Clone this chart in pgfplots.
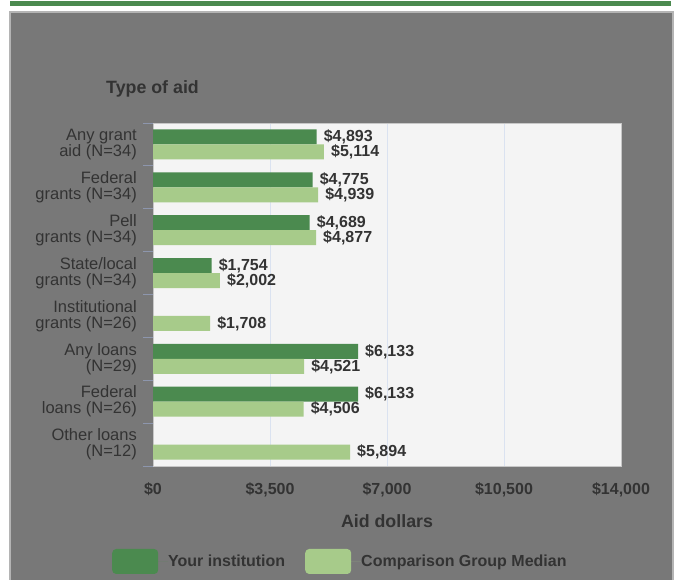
\documentclass[border=0pt]{standalone}
\usepackage{fontspec}
\setmainfont{Liberation Sans}
\usepackage{pgfplots}
\pgfplotsset{compat=1.18}
\definecolor{panel}{HTML}{787878}
\definecolor{panelborder}{HTML}{B4B4B4}
\definecolor{topgreen}{HTML}{4B8A4F}
\definecolor{darkbar}{HTML}{4B8A4F}
\definecolor{lightbar}{HTML}{A7CB8A}
\definecolor{plotbg}{HTML}{F4F4F4}
\definecolor{textc}{HTML}{333333}
\definecolor{gridc}{HTML}{DAE2F0}
\definecolor{tickc}{HTML}{8D96AD}
\begin{document}
\begin{tikzpicture}[x=1pt,y=1pt]
\useasboundingbox (0,0) rectangle (675,579);
\fill[white] (0,0) rectangle (675,579);
\fill[topgreen] (10,573) rectangle (671,578);
\fill[panel] (10,-2) rectangle (673,567);
\draw[panelborder, line width=1.5pt] (10,-2) -- (10,567) -- (673,567) -- (673,-2);
\node[anchor=base west, inner sep=0pt, font=\bfseries\fontsize{17.8}{18}\selectfont, text=textc] at (106,485.7) {Type of aid};
\begin{axis}[
  at={(153pt,113pt)}, anchor=south west,
  width=468pt, height=343pt, scale only axis,
  xmin=0, xmax=14000, ymin=-0.5, ymax=7.5,
  enlargelimits=false,
  y dir=reverse,
  xbar, bar width=15pt,
  axis background/.style={fill=plotbg},
  axis line style={draw=black!22, line width=0.6pt},
  xmajorgrids, grid style={draw=gridc, line width=1pt},
  scaled x ticks=false,
  xtick={0,3500,7000,10500,14000},
  xticklabels={{\$0},{\$3,500},{\$7,000},{\$10,500},{\$14,000}},
  ytick={0,1,2,3,4,5,6,7},
  yticklabels={{Any grant\\aid (N=34)},{Federal\\grants (N=34)},{Pell\\grants (N=34)},{State/local\\grants (N=34)},{Institutional\\grants (N=26)},{Any loans\\(N=29)},{Federal\\loans (N=26)},{Other loans\\(N=12)}},
  minor ytick={-0.5,0.5,1.5,2.5,3.5,4.5,5.5,6.5,7.5},
  ytick pos=left,
  major tick length=0pt,
  minor tick length=10pt,
  tick align=outside,
  minor y tick style={draw=tickc, line width=0.8pt},
  xtick style={draw=none}, ytick style={draw=none},
  xticklabel style={anchor=base, inner sep=0pt, yshift=-28pt, font=\bfseries\fontsize{16}{16}\selectfont, text=textc},
  yticklabel style={align=right, anchor=east, inner sep=0pt, xshift=-16pt, font=\fontsize{16.5}{16}\selectfont, text=textc},
  xlabel={Aid dollars},
  xlabel style={at={(rel axis cs:0.5,0)}, anchor=base, inner sep=0pt, yshift=-61pt, font=\bfseries\fontsize{17.8}{18}\selectfont, text=textc},
  /pgf/number format/assume math mode=true,
  point meta=x,
  nodes near coords={\$\pgfmathprintnumber[fixed,precision=0,1000 sep={,}]{\pgfplotspointmeta}},
  nodes near coords style={anchor=west, inner sep=0pt, xshift=7pt, font=\bfseries\fontsize{16}{16}\selectfont, text=textc},
  legend columns=2,
  legend style={at={(-0.0876,-0.2784)}, anchor=west, draw=none, fill=none, inner sep=0pt, column sep=0pt, nodes={inner sep=0pt, text=textc, font=\bfseries\fontsize{16}{16}\selectfont}},
  clip=false,
]
\addplot[draw=none, fill=darkbar, bar shift=7.5pt,
  legend image code/.code={\fill[darkbar, rounded corners=4pt] (0pt,-12.5pt) rectangle (46pt,12.5pt); \path (0pt,0pt) -- (56pt,0pt);}]
  coordinates {(4893,0) (4775,1) (4689,2) (1754,3) (6133,5) (6133,6)};
\addlegendentry{Your institution\hspace*{20pt}}
\addplot[draw=none, fill=lightbar, bar shift=-7.5pt,
  legend image code/.code={\fill[lightbar, rounded corners=4pt] (0pt,-12.5pt) rectangle (46pt,12.5pt); \path (0pt,0pt) -- (56pt,0pt);}]
  coordinates {(5114,0) (4939,1) (4877,2) (2002,3) (1708,4) (4521,5) (4506,6) (5894,7)};
\addlegendentry{Comparison Group Median}
\end{axis}
\end{tikzpicture}
\end{document}
